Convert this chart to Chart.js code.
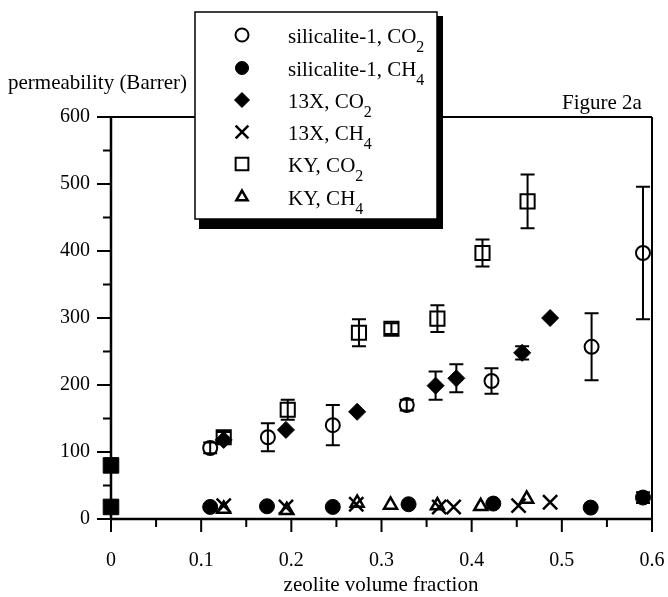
<!DOCTYPE html>
<html><head><meta charset="utf-8">
<script src="https://cdn.jsdelivr.net/npm/chart.js@4.4.1/dist/chart.umd.min.js"></script>
<style>html,body{margin:0;padding:0;background:#fff}canvas{display:block}</style>
</head><body>
<canvas id="c" width="668" height="597"></canvas>
<script>
// ---- data ----
const silCO2X   = [0.110, 0.174, 0.246, 0.328, 0.422, 0.533, 0.590];
const silCO2Y   = [106, 122, 140, 170, 206, 257, 397];
const silCO2Err = [8, 21, 30, 8, 19, 50, 99];

const silCH4X   = [0.110, 0.173, 0.246, 0.330, 0.424, 0.532, 0.590];
const silCH4Y   = [18, 19, 18, 22, 23, 17, 32];
const silCH4Err = [0, 0, 0, 0, 0, 0, 8];

const x13CO2X   = [0.125, 0.194, 0.273, 0.360, 0.383, 0.456, 0.487];
const x13CO2Y   = [118, 133, 160, 199, 210, 248, 300];
const x13CO2Err = [0, 0, 0, 21, 21, 10, 0];

const x13CH4X   = [0.125, 0.194, 0.272, 0.364, 0.380, 0.452, 0.487];
const x13CH4Y   = [20, 18, 22, 18, 18, 20, 25];

const kyCO2X    = [0.125, 0.196, 0.275, 0.311, 0.362, 0.412, 0.462];
const kyCO2Y    = [122, 163, 278, 284, 299, 397, 474];
const kyCO2Err  = [8, 15, 20, 8, 20, 20, 40];

const kyCH4X    = [0.125, 0.195, 0.273, 0.310, 0.362, 0.410, 0.461];
const kyCH4Y    = [15, 13, 24, 21, 20, 19, 30];

const polymerX  = [0, 0];
const polymerY  = [80, 18];

const legendMain = ["silicalite-1, CO", "silicalite-1, CH", "13X, CO", "13X, CH", "KY, CO", "KY, CH"];
const legendSub  = ["2", "4", "2", "4", "2", "4"];
const xTickLabels = ["0", "0.1", "0.2", "0.3", "0.4", "0.5", "0.6"];
const yTickLabels = ["0", "100", "200", "300", "400", "500", "600"];
const xTitle = "zeolite volume fraction";
const yTitle = "permeability (Barrer)";
const figTitle = "Figure 2a";

// ---- build ----
const pts = (xs, ys) => xs.map((x, i) => ({x: x, y: ys[i]}));
const FONT = '"Liberation Serif", "Times New Roman", serif';

function ds(label, xs, ys, style, opts, err) {
  return Object.assign({
    label: label, data: pts(xs, ys), pointStyle: style, clip: false,
    borderColor: '#000', pointBorderColor: '#000', showLine: false,
    errorBars: err || null
  }, opts);
}

const datasets = [
  ds("silicalite-1, CO₂", silCO2X, silCO2Y, 'circle', {pointRadius: 7, pointBackgroundColor: '#fff', pointBorderWidth: 2}, silCO2Err),
  ds("silicalite-1, CH₄", silCH4X, silCH4Y, 'circle', {pointRadius: 7.5, pointBackgroundColor: '#000', pointBorderWidth: 1}, silCH4Err),
  ds("13X, CO₂", x13CO2X, x13CO2Y, 'rectRot', {pointRadius: 8.5, pointBackgroundColor: '#000', pointBorderWidth: 1}, x13CO2Err),
  ds("13X, CH₄", x13CH4X, x13CH4Y, 'crossRot', {pointRadius: 10, pointBackgroundColor: '#000', pointBorderWidth: 2.5}),
  ds("KY, CO₂", kyCO2X, kyCO2Y, 'rect', {pointRadius: 10, pointBackgroundColor: '#fff', pointBorderWidth: 2}, kyCO2Err),
  ds("KY, CH₄", kyCH4X, kyCH4Y, 'triangle', {pointRadius: 7.5, pointBackgroundColor: '#fff', pointBorderWidth: 2.5}),
  ds("polymer", polymerX, polymerY, 'rect', {pointRadius: 11, pointBackgroundColor: '#000', pointBorderWidth: 1, inLegend: false})
];

const framePlugin = {
  id: 'frame',
  beforeDatasetsDraw(chart) {
    const ctx = chart.ctx, a = chart.chartArea, xs = chart.scales.x, ys = chart.scales.y;
    ctx.save();
    ctx.strokeStyle = '#000';
    ctx.lineCap = 'butt';
    ctx.lineWidth = 2;
    ctx.beginPath();
    ctx.moveTo(a.left, a.top); ctx.lineTo(a.right, a.top);
    ctx.moveTo(a.right, a.top); ctx.lineTo(a.right, a.bottom);
    ctx.stroke();
    ctx.lineWidth = 2.5;
    ctx.beginPath();
    ctx.moveTo(a.left, a.top - 1); ctx.lineTo(a.left, a.bottom);
    ctx.moveTo(a.left, a.bottom); ctx.lineTo(a.right + 1, a.bottom);
    ctx.stroke();
    ctx.lineWidth = 2;
    ctx.beginPath();
    for (let i = 0; i <= 12; i++) {
      const px = xs.getPixelForValue(i * 0.05);
      const len = i % 2 === 0 ? 13 : 8;
      ctx.moveTo(px, a.bottom); ctx.lineTo(px, a.bottom + len);
      const py = ys.getPixelForValue(i * 50);
      const ylen = i % 2 === 0 ? 14 : 8;
      ctx.moveTo(a.left, py); ctx.lineTo(a.left - ylen, py);
    }
    ctx.stroke();
    ctx.fillStyle = '#000';
    ctx.font = '21px ' + FONT;
    ctx.textBaseline = 'alphabetic';
    ctx.textAlign = 'left';
    ctx.fillText(yTitle, 8, 89);
    ctx.fillText(figTitle, 562, 109);
    ctx.textAlign = 'center';
    ctx.fillText(xTitle, 381, 591);
    ctx.restore();
  }
};

const errorPlugin = {
  id: 'errbars',
  afterDatasetsDraw(chart) {
    const ctx = chart.ctx, xs = chart.scales.x, ys = chart.scales.y;
    ctx.save();
    ctx.strokeStyle = '#000';
    ctx.lineWidth = 2;
    chart.data.datasets.forEach(d => {
      if (!d.errorBars) return;
      d.data.forEach((p, i) => {
        const e = d.errorBars[i];
        if (!e) return;
        const px = xs.getPixelForValue(p.x);
        const y1 = ys.getPixelForValue(p.y + e), y2 = ys.getPixelForValue(p.y - e);
        ctx.beginPath();
        ctx.moveTo(px, y1); ctx.lineTo(px, y2);
        ctx.moveTo(px - 7, y1); ctx.lineTo(px + 7, y1);
        ctx.moveTo(px - 7, y2); ctx.lineTo(px + 7, y2);
        ctx.stroke();
      });
    });
    ctx.restore();
  }
};

const legendPlugin = {
  id: 'boxLegend',
  afterDraw(chart) {
    const ctx = chart.ctx;
    const L = 195, T = 12, R = 437, B = 219;
    ctx.save();
    ctx.fillStyle = '#000';
    ctx.fillRect(199, B, R - 199 + 6, 10);
    ctx.fillRect(R, T + 4, 6, B - T + 6);
    ctx.fillStyle = '#fff';
    ctx.fillRect(L, T, R - L, B - T);
    ctx.strokeStyle = '#000';
    ctx.lineWidth = 1.5;
    ctx.strokeRect(L, T, R - L, B - T);
    const rows = [35, 68, 100, 132, 164, 197];
    let k = 0;
    chart.data.datasets.forEach(d => {
      if (d.inLegend === false) return;
      const y = rows[k];
      ctx.fillStyle = d.pointBackgroundColor;
      ctx.strokeStyle = '#000';
      ctx.lineWidth = d.pointBorderWidth;
      const r = d.pointStyle === 'rect' ? 9 : (d.pointStyle === 'crossRot' ? 9 : (d.pointStyle === 'rectRot' ? 7.5 : 6.5));
      Chart.helpers.drawPoint(ctx, {pointStyle: d.pointStyle, radius: r, rotation: 0, borderWidth: d.pointBorderWidth}, 242, y);
      ctx.fillStyle = '#000';
      ctx.font = '21px ' + FONT;
      ctx.textAlign = 'left';
      ctx.textBaseline = 'alphabetic';
      const main = legendMain[k];
      ctx.fillText(main, 288, y + 8);
      const w = ctx.measureText(main).width;
      ctx.font = '16px ' + FONT;
      ctx.fillText(legendSub[k], 288 + w, y + 17);
      k++;
    });
    ctx.restore();
  }
};

new Chart(document.getElementById('c'), {
  type: 'scatter',
  data: {datasets: datasets},
  options: {
    responsive: false,
    animation: false,
    layout: {padding: {top: 117, right: 16, left: 0, bottom: 0}},
    plugins: {legend: {display: false}, tooltip: {enabled: false}, title: {display: false}},
    scales: {
      x: {
        type: 'linear', min: 0, max: 0.6,
        grid: {display: false, drawTicks: false},
        border: {display: false},
        ticks: {
          stepSize: 0.05, autoSkip: false, maxRotation: 0, padding: 30,
          color: '#000', font: {family: FONT, size: 20},
          callback: (v, i) => (i % 2 === 0 ? xTickLabels[i / 2] : '')
        },
        afterFit: s => { s.height = 78; s.paddingLeft = 0; s.paddingRight = 0; }
      },
      y: {
        type: 'linear', min: 0, max: 600,
        grid: {display: false, drawTicks: false},
        border: {display: false},
        ticks: {
          stepSize: 50, autoSkip: false, padding: 21,
          color: '#000', font: {family: FONT, size: 20},
          callback: (v, i) => (i % 2 === 0 ? yTickLabels[i / 2] : '')
        },
        afterFit: s => { s.width = 111; s.paddingTop = 0; s.paddingBottom = 0; }
      }
    }
  },
  plugins: [framePlugin, errorPlugin, legendPlugin]
});
</script>
</body></html>
